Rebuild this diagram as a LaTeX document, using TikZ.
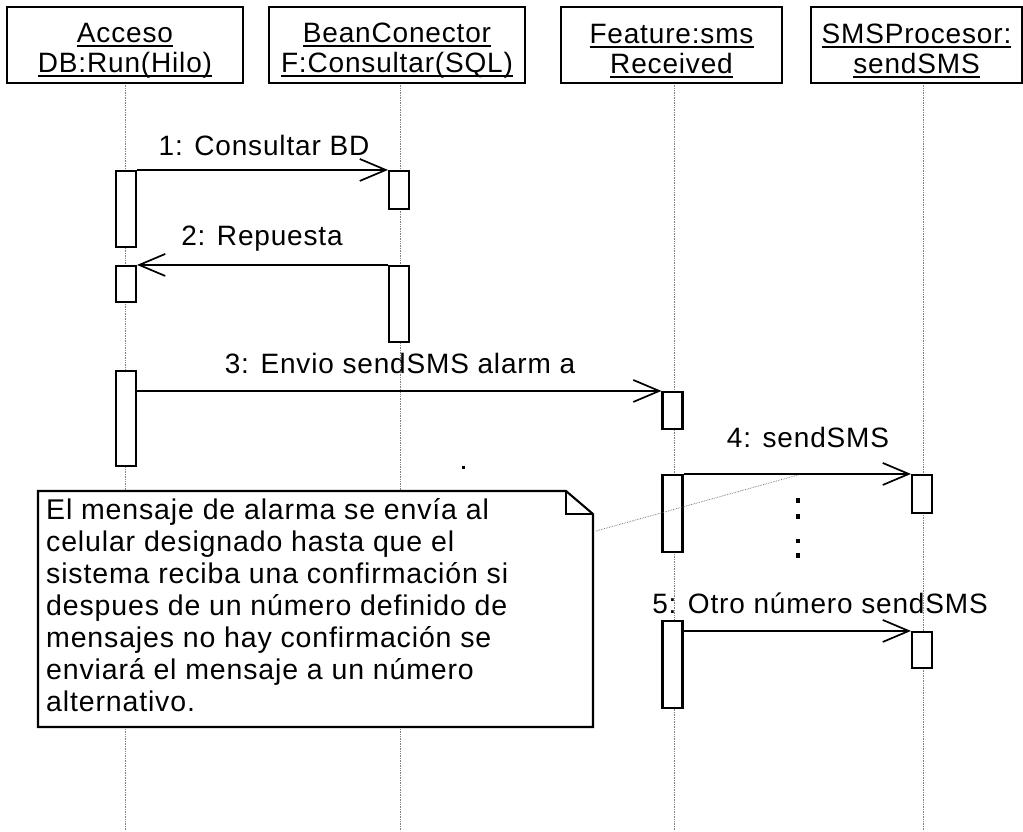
\documentclass[tikz,border=0pt]{standalone}
\usepackage{fontspec}
\setmainfont{Liberation Sans}[LetterSpace=3]
\usetikzlibrary{arrows.meta}
% underline at a fixed depth below the baseline
\newcommand{\ulx}[1]{\leavevmode\setbox0\hbox{#1}\rlap{\rule[-4pt]{\wd0}{1.2pt}}\box0}
% two-line object header
\newcommand{\hdrtext}[2]{\rule{0pt}{31pt}\ulx{#1}\\\ulx{#2}}
\begin{document}
\begin{tikzpicture}[x=1pt,y=-1pt,
  font=\fontsize{28}{32}\selectfont,
  hdr/.style={draw, line width=2.1pt, fill=white, minimum height=76pt,
    align=center, inner sep=0pt, font=\fontsize{28}{30}\selectfont},
  act/.style={draw, line width=2.1pt, fill=white, minimum width=20pt, inner sep=0pt},
  life/.style={gray, line width=0.7pt, densely dotted},
  msg/.style={line width=1.7pt, -{Straight Barb[length=26pt,width=22pt]}},
  lbl/.style={anchor=base, inner sep=0pt},
  notebox/.style={draw, line width=2.1pt, fill=white, line join=miter},
  notelink/.style={gray!80!black, line width=0.7pt, densely dotted}]
\useasboundingbox (0,0) rectangle (1023,831);

% lifelines
\coordinate (l1t) at (125,83);  \coordinate (l1b) at (125,831);
\coordinate (l2t) at (400,83);  \coordinate (l2b) at (400,831);
\coordinate (l3t) at (674,83);  \coordinate (l3b) at (674,831);
\coordinate (l4t) at (923,83);  \coordinate (l4b) at (923,831);
\foreach \i in {1,2,3,4} \draw[life] (l\i t) -- (l\i b);

% object headers
\node[hdr, minimum width=236pt] (h1) at (125,45)   {\hdrtext{Acceso}{DB:Run(Hilo)}};
\node[hdr, minimum width=256pt] (h2) at (397,45)   {\hdrtext{BeanConector}{F:Consultar(SQL)}};
\node[hdr, minimum width=221pt] (h3) at (671.5,45) {\hdrtext{Feature:sms}{Received}};
\node[hdr, minimum width=211pt] (h4) at (916.5,45) {\hdrtext{SMSProcesor:}{sendSMS}};

% activation bars
\node[act, minimum height=76pt] (a1) at (126,209)   {};
\node[act, minimum height=36pt] (a2) at (126,284)   {};
\node[act, minimum height=95pt] (a3) at (126,418.5) {};
\node[act, minimum height=38pt] (b1) at (399,190)   {};
\node[act, minimum height=76pt] (b2) at (399,304)   {};
\node[act, minimum height=37pt] (f1) at (672.5,410.5) {};
\node[act, minimum height=77pt] (f2) at (672.5,513.5) {};
\node[act, minimum height=87pt] (f3) at (672.5,664.5) {};
\node[act, minimum height=38pt] (s1) at (922,494)   {};
\node[act, minimum height=36pt] (s2) at (922,650)   {};

% messages
\draw[msg] (a1.north east) -- (b1.north west);
\node[lbl] (m1) at (264,155) {1: Consultar BD};
\draw[msg] (b2.north west) -- (a2.north east);
\node[lbl] (m2) at (262,245) {2: Repuesta};
\draw[msg] (a3.east |- f1.north) -- (f1.north west);
\node[lbl] (m3) at (400,373) {3: Envio sendSMS alarm a};
\draw[msg] (f2.north east) -- (s1.north west);
\node[lbl] (m4) at (808,447) {4: sendSMS};
\draw[msg] (f3.east |- s2.north) -- (s2.north west);
\node[lbl] (m5) at (820,613) {5: Otro número sendSMS};

% continuation marks between messages 4 and 5
\foreach \y in {500.5,516.5,541,555.5}
  \fill (795.5,\y-2.3) rectangle (800,\y+2.3);
\fill (462,466) rectangle (465,469);

% comment note with folded corner
\draw[notebox] (38,491) -- (566,491) -- (593,514) -- (593,727) -- (38,727) -- cycle;
\draw[line width=2.1pt, line join=miter] (566,491) -- (566,514) -- (593,514);
\node[anchor=north west, align=left, inner sep=0pt,
      font=\fontsize{28.5}{32}\selectfont] (notetext) at (46,492)
  {\rule{0pt}{27pt}El mensaje de alarma se envía al\\
   celular designado hasta que el\\
   sistema reciba una confirmación si\\
   despues de un número definido de\\
   mensajes no hay confirmación se\\
   enviará el mensaje a un número\\
   alternativo.};
\coordinate (notepin) at (596,531);
\coordinate (msgpin) at (798,475);
\draw[notelink] (notepin) -- (msgpin);
\end{tikzpicture}
\end{document}
